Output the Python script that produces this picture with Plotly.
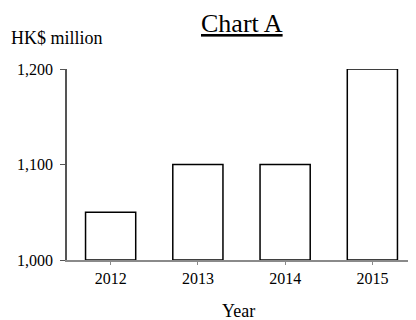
import plotly.graph_objects as go

years = ["2012", "2013", "2014", "2015"]
values = [1050, 1100, 1100, 1200]
y_base = 1000
y_ticks = [1000, 1100, 1200]
y_tick_labels = ["1,000", "1,100", "1,200"]

FONT = "Liberation Serif, Times New Roman, serif"

fig = go.Figure(
    go.Bar(
        x=years,
        y=[v - y_base for v in values],
        base=y_base,
        width=0.575,
        marker=dict(color="white", line=dict(color="black", width=1.5)),
    )
)

fig.update_layout(
    width=408,
    height=312,
    margin=dict(l=59, r=0, t=61, b=60, autoexpand=False),
    paper_bgcolor="white",
    plot_bgcolor="white",
    showlegend=False,
    font=dict(family=FONT, color="black", size=16),
    xaxis=dict(
        showline=True,
        linecolor="#8a8a8a",
        linewidth=1.5,
        ticks="outside",
        ticklen=3,
        tickcolor="#8a8a8a",
        showgrid=False,
        automargin=False,
        tickfont=dict(size=16),
    ),
    yaxis=dict(
        range=[1000, 1200],
        tickvals=y_ticks,
        ticktext=y_tick_labels,
        showline=True,
        linecolor="#555555",
        linewidth=1.5,
        ticks="outside",
        ticklen=5,
        tickcolor="#555555",
        ticklabelstandoff=4,
        showgrid=False,
        zeroline=False,
        automargin=False,
        tickfont=dict(size=16),
    ),
    annotations=[
        dict(
            text="<u>Chart A</u>",
            xref="paper", yref="paper",
            x=0.5, y=1.152,
            xanchor="center", yanchor="bottom",
            showarrow=False,
            font=dict(size=26, family=FONT, color="black"),
        ),
        dict(
            text="HK$ million",
            xref="paper", yref="paper",
            x=-0.165, y=1.10,
            xanchor="left", yanchor="bottom",
            showarrow=False,
            font=dict(size=18, family=FONT, color="black"),
        ),
        dict(
            text="Year",
            xref="paper", yref="paper",
            x=0.49, y=-0.267,
            xanchor="center", yanchor="middle",
            showarrow=False,
            font=dict(size=18, family=FONT, color="black"),
        ),
    ],
)

fig.write_html("out.html")
